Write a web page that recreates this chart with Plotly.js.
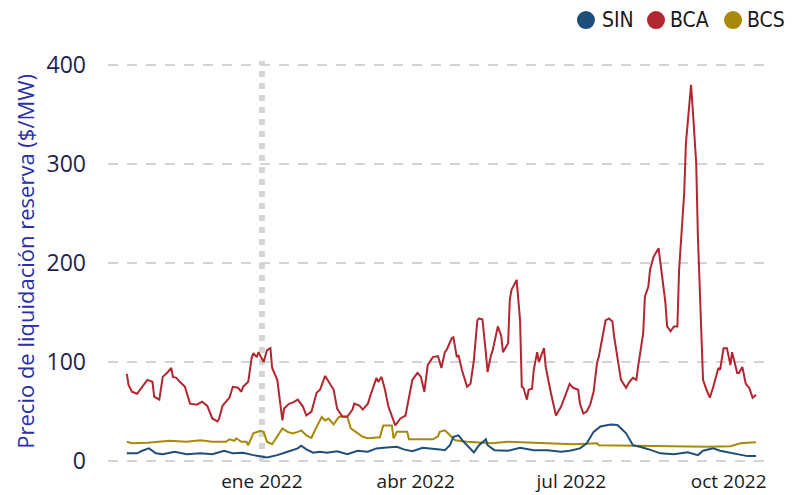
<!DOCTYPE html>
<html>
<head>
<meta charset="utf-8">
<script src="https://cdn.plot.ly/plotly-3.0.1.min.js"></script>
<style>html,body{margin:0;padding:0;background:#fff;}#chart{width:804px;height:495px;}</style>
</head>
<body>
<div id="chart"></div>
<script>
const bcaDates = ["2021-10-14","2021-10-15","2021-10-17","2021-10-20","2021-10-23","2021-10-26","2021-10-29","2021-10-30","2021-11-02","2021-11-04","2021-11-07","2021-11-09","2021-11-10","2021-11-12","2021-11-14","2021-11-17","2021-11-20","2021-11-24","2021-11-27","2021-11-30","2021-12-03","2021-12-06","2021-12-07","2021-12-09","2021-12-11","2021-12-13","2021-12-15","2021-12-18","2021-12-20","2021-12-21","2021-12-24","2021-12-26","2021-12-27","2021-12-29","2021-12-30","2022-01-02","2022-01-04","2022-01-06","2022-01-07","2022-01-10","2022-01-13","2022-01-14","2022-01-17","2022-01-19","2022-01-22","2022-01-23","2022-01-25","2022-01-27","2022-01-30","2022-02-02","2022-02-04","2022-02-07","2022-02-09","2022-02-12","2022-02-14","2022-02-17","2022-02-20","2022-02-23","2022-02-24","2022-02-27","2022-03-01","2022-03-04","2022-03-06","2022-03-09","2022-03-10","2022-03-12","2022-03-14","2022-03-16","2022-03-20","2022-03-23","2022-03-26","2022-03-28","2022-03-30","2022-04-02","2022-04-04","2022-04-06","2022-04-08","2022-04-11","2022-04-14","2022-04-16","2022-04-18","2022-04-19","2022-04-22","2022-04-23","2022-04-25","2022-04-26","2022-04-28","2022-05-01","2022-05-03","2022-05-05","2022-05-07","2022-05-08","2022-05-10","2022-05-12","2022-05-13","2022-05-15","2022-05-16","2022-05-19","2022-05-21","2022-05-22","2022-05-25","2022-05-26","2022-05-27","2022-05-30","2022-06-01","2022-06-02","2022-06-03","2022-06-05","2022-06-06","2022-06-08","2022-06-09","2022-06-11","2022-06-12","2022-06-15","2022-06-16","2022-06-19","2022-06-22","2022-06-25","2022-06-26","2022-06-29","2022-06-30","2022-07-02","2022-07-05","2022-07-06","2022-07-08","2022-07-10","2022-07-12","2022-07-14","2022-07-16","2022-07-17","2022-07-20","2022-07-21","2022-07-23","2022-07-25","2022-07-26","2022-07-28","2022-07-30","2022-08-02","2022-08-04","2022-08-06","2022-08-08","2022-08-09","2022-08-12","2022-08-13","2022-08-15","2022-08-16","2022-08-18","2022-08-21","2022-08-23","2022-08-25","2022-08-26","2022-08-28","2022-08-30","2022-09-01","2022-09-02","2022-09-03","2022-09-05","2022-09-06","2022-09-08","2022-09-09","2022-09-10","2022-09-12","2022-09-13","2022-09-15","2022-09-16","2022-09-18","2022-09-20","2022-09-22","2022-09-25","2022-09-26","2022-09-28","2022-09-30","2022-10-02","2022-10-03","2022-10-06","2022-10-07","2022-10-09","2022-10-11","2022-10-13","2022-10-15","2022-10-17"];
const bcaValues = [88,77,70,68,75,82,80,65,62,85,90,94,85,84,80,75,58,57,60,56,43,40,43,56,60,64,75,74,70,75,80,104,109,105,110,100,112,114,94,82,41,53,58,59,62,60,55,46,50,69,72,86,80,72,53,45,45,52,58,56,52,58,69,84,80,85,72,55,36,43,46,65,82,89,85,70,97,105,106,94,110,112,124,125,105,107,92,75,78,102,142,144,143,109,90,107,112,136,126,110,119,163,173,183,142,75,74,62,72,73,92,110,100,114,95,69,46,55,60,74,78,74,72,58,48,50,57,70,99,105,132,142,144,141,126,102,82,74,80,84,82,95,129,166,176,193,206,215,186,160,136,131,136,136,193,220,271,321,362,380,355,301,227,142,82,72,64,75,94,92,114,114,97,110,89,89,95,78,74,64,67];

const bcsDates = ["2021-10-14","2021-10-17","2021-10-26","2021-11-08","2021-11-18","2021-11-26","2021-12-03","2021-12-11","2021-12-13","2021-12-16","2021-12-17","2021-12-20","2021-12-23","2021-12-24","2021-12-27","2021-12-31","2022-01-02","2022-01-04","2022-01-07","2022-01-10","2022-01-13","2022-01-16","2022-01-19","2022-01-22","2022-01-24","2022-01-27","2022-01-30","2022-02-02","2022-02-05","2022-02-07","2022-02-09","2022-02-12","2022-02-15","2022-02-17","2022-02-20","2022-02-22","2022-02-26","2022-03-01","2022-03-04","2022-03-11","2022-03-13","2022-03-18","2022-03-19","2022-03-21","2022-03-27","2022-03-28","2022-04-11","2022-04-14","2022-04-15","2022-04-18","2022-04-21","2022-04-24","2022-05-01","2022-05-15","2022-05-25","2022-06-13","2022-07-02","2022-07-10","2022-07-16","2022-07-17","2022-08-06","2022-08-30","2022-09-19","2022-10-02","2022-10-08","2022-10-12","2022-10-17"];
const bcsValues = [19.5,18,18.5,20.5,19.5,21,19.5,19.5,22,20.5,23,19.5,19.5,16,28,30.5,29.5,19.5,17,24.5,33,29.5,28,29.5,31,26,23.5,34.5,44.5,41,43,37,44.5,45,44.5,33,28,24.5,23,24,36,36,23,29.5,29.5,22,22,25,29.5,31,26,21,19.5,18,19.5,18.5,17,17.5,18,16,15.5,15.5,14.5,15,18,18.5,19];

const sinDates = ["2021-10-14","2021-10-20","2021-10-23","2021-10-27","2021-10-31","2021-11-04","2021-11-11","2021-11-18","2021-11-26","2021-12-03","2021-12-10","2021-12-15","2021-12-21","2021-12-27","2022-01-04","2022-01-10","2022-01-16","2022-01-22","2022-01-24","2022-01-27","2022-01-31","2022-02-04","2022-02-08","2022-02-14","2022-02-20","2022-02-26","2022-03-04","2022-03-09","2022-03-15","2022-03-21","2022-03-25","2022-03-30","2022-04-05","2022-04-11","2022-04-15","2022-04-18","2022-04-21","2022-04-23","2022-04-26","2022-04-29","2022-05-02","2022-05-05","2022-05-08","2022-05-12","2022-05-13","2022-05-17","2022-05-25","2022-06-01","2022-06-09","2022-06-17","2022-06-25","2022-06-30","2022-07-06","2022-07-10","2022-07-14","2022-07-18","2022-07-24","2022-07-28","2022-08-02","2022-08-06","2022-08-10","2022-08-15","2022-08-22","2022-08-30","2022-09-07","2022-09-13","2022-09-16","2022-09-22","2022-09-26","2022-10-02","2022-10-08","2022-10-12","2022-10-17"];
const sinValues = [7.8,7.8,10.4,12.8,7.8,6.8,9.4,7,7.8,7,10.4,7.8,8.4,6,3.7,6,9.4,12.8,15.5,11.8,8.4,9.4,8.4,10,7,10.4,9.4,12.8,13.8,14.4,11.8,10,13.4,12.8,11.8,11,16,24.5,26,19.5,14.4,8.8,16,22,16,11,10.4,13.4,11,11,9.4,10.4,12.8,18,29.5,35,37,36.5,28,16,14.4,12,7.8,6.8,8.8,6,10.4,12.8,10.4,8.4,7,5,5];

const tickVals = ["2022-01-01","2022-04-01","2022-07-01","2022-10-01"];
const tickText = ["ene 2022","abr 2022","jul 2022","oct 2022"];
const yTicks = [0,100,200,300,400];
const markerDate = "2022-01-01";
const seriesNames = ["SIN","BCA","BCS"];
const yTitle = "Precio de liquidación reserva ($/MW)";

const colors = {SIN:"#1f4e79", BCA:"#b2262f", BCS:"#a8890a"};

const traces = [
  {x: bcsDates, y: bcsValues, name: "BCS", mode: "lines", line: {color: colors.BCS, width: 2}},
  {x: bcaDates, y: bcaValues, name: "BCA", mode: "lines", line: {color: colors.BCA, width: 2}},
  {x: sinDates, y: sinValues, name: "SIN", mode: "lines", line: {color: colors.SIN, width: 2}}
];

// custom legend (circle + label) placed in the top margin
const legendCircleX = [0.7242, 0.8303, 0.947];
const legendTextX = [0.745, 0.848, 0.965];
const legendY = 1.098;
const legendShapes = seriesNames.map((n, i) => ({
  type: "circle", xref: "paper", yref: "paper", xsizemode: "pixel", ysizemode: "pixel",
  xanchor: legendCircleX[i], yanchor: legendY, x0: -9, x1: 9, y0: -9, y1: 9,
  fillcolor: colors[n], line: {width: 0}
}));
const legendLabels = seriesNames.map((n, i) => ({
  text: n, xref: "paper", yref: "paper", x: legendTextX[i], y: legendY,
  xanchor: "left", yanchor: "middle", showarrow: false,
  font: {family: "DejaVu Sans Condensed, Liberation Sans Narrow, sans-serif", size: 21, color: "#1a1a1a"}
}));
const titleAnnotation = {
  text: yTitle, xref: "paper", yref: "paper", x: -0.127, y: 0.506,
  xanchor: "center", yanchor: "middle", textangle: -90, showarrow: false,
  font: {family: "Open Sans, sans-serif", size: 22, color: "#2a2fa8"}
};

const layout = {
  width: 804, height: 495,
  margin: {l: 108, r: 36, t: 60, b: 27, autoexpand: false},
  paper_bgcolor: "#fff", plot_bgcolor: "#fff",
  showlegend: false,
  xaxis: {
    type: "date", range: ["2021-10-03", "2022-10-24"],
    tickmode: "array", tickvals: tickVals, ticktext: tickText,
    showgrid: false, zeroline: false, showline: false, ticks: "",
    tickfont: {family: "Open Sans, sans-serif", size: 19, color: "#1a1a1a"}
  },
  yaxis: {
    range: [-7, 405], tickmode: "array", tickvals: yTicks,
    showgrid: true, gridcolor: "#d4d4d4", gridwidth: 2, griddash: "10px,9px",
    zeroline: false, showline: false, ticks: "",
    ticklabelstandoff: 21,
    tickfont: {family: "Open Sans, sans-serif", size: 23, color: "#1e1f4f"}
  },
  shapes: [{type: "line", xref: "x", yref: "y", x0: markerDate, x1: markerDate, y0: 0, y1: 404,
            layer: "below", line: {color: "#d6d6d6", width: 6, dash: "6px,6px"}}].concat(legendShapes),
  annotations: legendLabels.concat([titleAnnotation])
};

Plotly.newPlot("chart", traces, layout, {displayModeBar: false, staticPlot: true});
</script>
</body>
</html>
